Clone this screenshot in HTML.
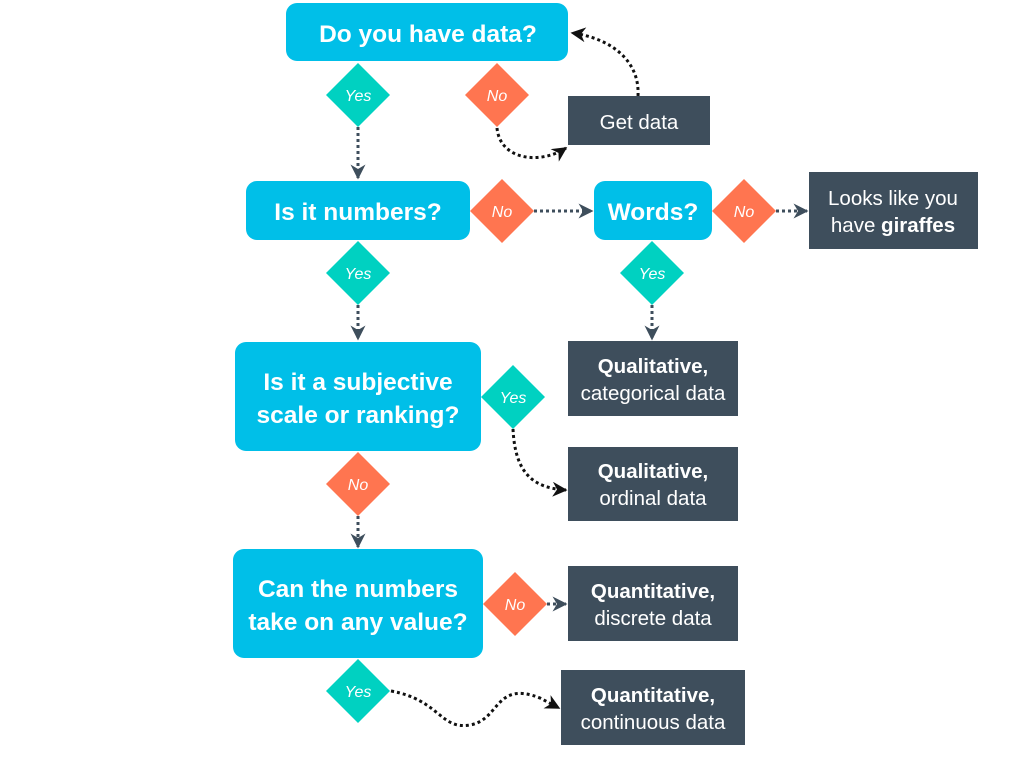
<!DOCTYPE html>
<html><head><style>
html,body{margin:0;padding:0;background:#fff;}
svg{display:block;font-family:"Liberation Sans",sans-serif;}
.q{fill:#fff;font-weight:bold;font-size:24.5px;text-anchor:middle;}
.d{fill:#fff;font-size:20.5px;text-anchor:middle;}
.db{fill:#fff;font-size:20.5px;text-anchor:middle;font-weight:bold;}
.l{fill:#fff;font-size:16px;font-style:italic;text-anchor:middle;}
.c{fill:none;stroke:#111;stroke-width:3;stroke-dasharray:3 3;}
.g{fill:none;stroke:#3e4e5c;stroke-width:3;stroke-dasharray:3 3;}
</style></head><body>
<svg width="1024" height="768" viewBox="0 0 1024 768">
<defs>
<marker id="a" viewBox="0 0 10 10" refX="9" refY="5" markerWidth="5" markerHeight="5" orient="auto"><path d="M0,0 L10,5 L0,10 L3,5z" fill="#111"/></marker>
<marker id="b" viewBox="0 0 10 10" refX="9" refY="5" markerWidth="5" markerHeight="5" orient="auto"><path d="M0,0 L10,5 L0,10 L3,5z" fill="#3e4e5c"/></marker>
</defs>
<path class="g" d="M358,127 V178" marker-end="url(#b)"/>
<path class="g" d="M358,305 V339" marker-end="url(#b)"/>
<path class="g" d="M358,516 V547" marker-end="url(#b)"/>
<path class="g" d="M652,305 V339" marker-end="url(#b)"/>
<path class="g" d="M534,211 H592" marker-end="url(#b)"/>
<path class="g" d="M776,211 H807" marker-end="url(#b)"/>
<path class="g" d="M547,604 H566" marker-end="url(#b)"/>
<path class="c" d="M497,128 C500,160 540,165 566,148" marker-end="url(#a)"/>
<path class="c" d="M638,96 C640,60 610,38 572,33" marker-end="url(#a)"/>
<path class="c" d="M513,429 C515,470 530,488 566,490" marker-end="url(#a)"/>
<path class="c" d="M391,691 C440,700 440,730 470,725 C500,720 495,680 540,698 L559,708" marker-end="url(#a)"/>
<rect x="286" y="3" width="282" height="58" rx="11" fill="#00bfe8"/>
<text class="q" x="428" y="42">Do you have data?</text>
<rect x="246" y="181" width="224" height="59" rx="11" fill="#00bfe8"/>
<text class="q" x="358" y="220">Is it numbers?</text>
<rect x="594" y="181" width="118" height="59" rx="11" fill="#00bfe8"/>
<text class="q" x="653" y="220">Words?</text>
<rect x="235" y="342" width="246" height="109" rx="11" fill="#00bfe8"/>
<text class="q" x="358" y="390">Is it a subjective</text>
<text class="q" x="358" y="423">scale or ranking?</text>
<rect x="233" y="549" width="250" height="109" rx="11" fill="#00bfe8"/>
<text class="q" x="358" y="597">Can the numbers</text>
<text class="q" x="358" y="630">take on any value?</text>
<rect x="568" y="96" width="142" height="49" fill="#3e4e5c"/>
<text class="d" x="639" y="129">Get data</text>
<rect x="809" y="172" width="169" height="77" fill="#3e4e5c"/>
<text class="d" x="893" y="205">Looks like you</text>
<text class="d" x="893" y="232">have <tspan font-weight="bold">giraffes</tspan></text>
<rect x="568" y="341" width="170" height="75" fill="#3e4e5c"/>
<text class="db" x="653" y="373">Qualitative,</text>
<text class="d" x="653" y="400">categorical data</text>
<rect x="568" y="447" width="170" height="74" fill="#3e4e5c"/>
<text class="db" x="653" y="478">Qualitative,</text>
<text class="d" x="653" y="505">ordinal data</text>
<rect x="568" y="566" width="170" height="75" fill="#3e4e5c"/>
<text class="db" x="653" y="598">Quantitative,</text>
<text class="d" x="653" y="625">discrete data</text>
<rect x="561" y="670" width="184" height="75" fill="#3e4e5c"/>
<text class="db" x="653" y="702">Quantitative,</text>
<text class="d" x="653" y="729">continuous data</text>
<g>
<path d="M358,63 L390,95 L358,127 L326,95z" fill="#00d1c1"/><text class="l" x="358" y="101">Yes</text>
<path d="M497,63 L529,95 L497,127 L465,95z" fill="#ff7550"/><text class="l" x="497" y="101">No</text>
<path d="M502,179 L534,211 L502,243 L470,211z" fill="#ff7550"/><text class="l" x="502" y="217">No</text>
<path d="M744,179 L776,211 L744,243 L712,211z" fill="#ff7550"/><text class="l" x="744" y="217">No</text>
<path d="M358,241 L390,273 L358,305 L326,273z" fill="#00d1c1"/><text class="l" x="358" y="279">Yes</text>
<path d="M652,241 L684,273 L652,305 L620,273z" fill="#00d1c1"/><text class="l" x="652" y="279">Yes</text>
<path d="M513,365 L545,397 L513,429 L481,397z" fill="#00d1c1"/><text class="l" x="513" y="403">Yes</text>
<path d="M358,452 L390,484 L358,516 L326,484z" fill="#ff7550"/><text class="l" x="358" y="490">No</text>
<path d="M515,572 L547,604 L515,636 L483,604z" fill="#ff7550"/><text class="l" x="515" y="610">No</text>
<path d="M358,659 L390,691 L358,723 L326,691z" fill="#00d1c1"/><text class="l" x="358" y="697">Yes</text>
</g>
</svg>
</body></html>
